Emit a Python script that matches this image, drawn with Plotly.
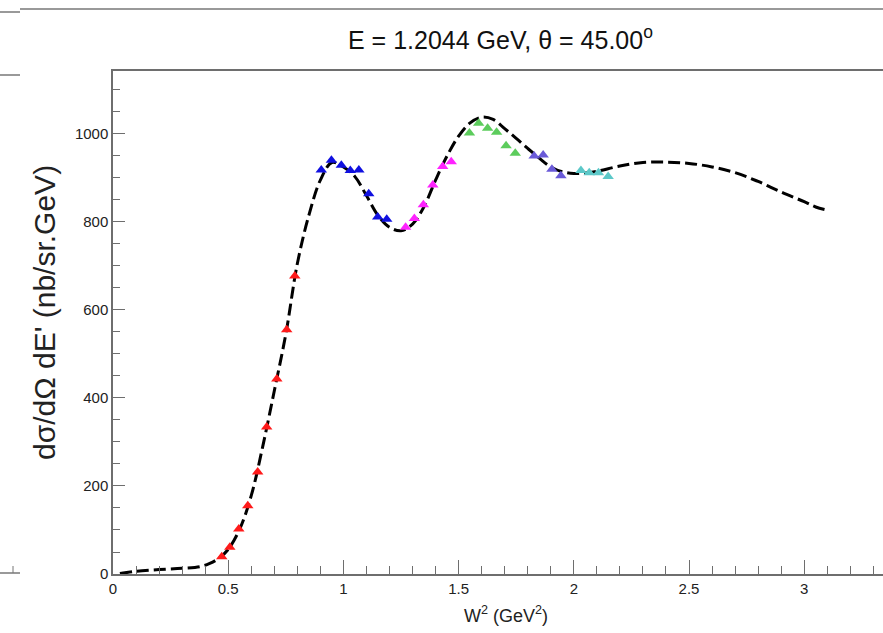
import plotly.graph_objects as go

# Model curve
curve_x = [0.03, 0.10, 0.20, 0.30, 0.38, 0.42, 0.46, 0.50, 0.55, 0.60, 0.65, 0.70, 0.75,
           0.80, 0.85, 0.90, 0.95, 1.00, 1.05, 1.10, 1.15, 1.20, 1.25, 1.30, 1.35, 1.40,
           1.45, 1.50, 1.55, 1.60, 1.65, 1.70, 1.75, 1.80, 1.85, 1.90, 1.95, 2.00, 2.05,
           2.10, 2.20, 2.30, 2.40, 2.50, 2.60, 2.70, 2.80, 2.90, 3.00, 3.05, 3.10]
curve_y = [1, 6, 10, 13, 17, 24, 36, 56, 102, 178, 290, 416, 545,
           705, 815, 895, 935, 925, 903, 860, 815, 788, 780, 795, 835, 895,
           950, 995, 1025, 1038, 1033, 1012, 990, 967, 945, 925, 914, 910, 911,
           915, 927, 935, 936, 933, 925, 912, 892, 868, 846, 834, 827]

# Data sets
red_x = [0.472, 0.507, 0.546, 0.585, 0.628, 0.667, 0.711, 0.754, 0.789]
red_y = [39, 61, 102, 155, 232, 334, 443, 555, 677]

blue_x = [0.904, 0.948, 0.991, 1.030, 1.067, 1.110, 1.149, 1.188]
blue_y = [918, 940, 929, 917, 918, 864, 811, 806]

magenta_x = [1.270, 1.308, 1.347, 1.388, 1.431, 1.468]
magenta_y = [788, 808, 839, 884, 926, 937]

green_x = [1.547, 1.587, 1.626, 1.665, 1.706, 1.746]
green_y = [1002, 1024, 1013, 1004, 973, 956]

slate_x = [1.828, 1.867, 1.905, 1.944]
slate_y = [950, 952, 920, 905]

cyan_x = [2.031, 2.067, 2.107, 2.149]
cyan_y = [917, 912, 912, 903]

series = [
    (red_x, red_y, "#ff1a1a"),
    (blue_x, blue_y, "#1010e0"),
    (magenta_x, magenta_y, "#ff22ff"),
    (green_x, green_y, "#5ccc5c"),
    (slate_x, slate_y, "#6a5ad8"),
    (cyan_x, cyan_y, "#5cc8c8"),
]

FONT = "Liberation Sans Narrow, Arial Narrow, Liberation Sans, Arial, sans-serif"
REG = "Liberation Sans, Arial, sans-serif"

fig = go.Figure()
fig.add_trace(go.Scatter(x=curve_x, y=curve_y, mode="lines",
                         line=dict(color="black", width=3, dash="12px,5px", shape="spline"),
                         showlegend=False, hoverinfo="skip"))
for xs, ys, col in series:
    fig.add_trace(go.Scatter(x=xs, y=ys, mode="markers",
                             marker=dict(symbol="triangle-up", size=10, color=col),
                             error_x=dict(type="constant", value=0.012, color=col, thickness=1, width=0),
                             showlegend=False))

W, H = 883, 633
L, R, T, B = 113, 0, 71, 59
pw, ph = W - L - R, H - T - B

def px(xp):
    return (xp - L) / pw

def py(yp):
    return (H - B - yp) / ph

axis_col = "#6e6e6e"
fig.update_layout(
    width=W, height=H, autosize=False,
    margin=dict(l=L, r=R, t=T, b=B, pad=0),
    paper_bgcolor="white", plot_bgcolor="white",
    showlegend=False,
    xaxis=dict(range=[0, 3.342], showgrid=False, zeroline=False,
               showline=True, linecolor=axis_col, linewidth=1.5, mirror=True,
               ticks="inside", ticklen=14, tickcolor=axis_col, tickwidth=1,
               dtick=0.5, tick0=0,
               minor=dict(ticks="inside", ticklen=8, dtick=0.1, tickcolor=axis_col, showgrid=False),
               tickfont=dict(family=FONT, size=15, color="#222")),
    yaxis=dict(range=[0, 1143], showgrid=False, zeroline=False,
               showline=True, linecolor=axis_col, linewidth=1.5,
               ticks="inside", ticklen=12, tickcolor=axis_col, tickwidth=1,
               dtick=200, tick0=0,
               minor=dict(ticks="inside", ticklen=7, dtick=50, tickcolor=axis_col, showgrid=False),
               tickfont=dict(family=FONT, size=15, color="#222")),
    annotations=[
        dict(text="E = 1.2044 GeV, θ = 45.00<sup>o</sup>", xref="paper", yref="paper",
             x=px(501), y=py(38), showarrow=False, xanchor="center", yanchor="middle",
             font=dict(family=FONT, size=25, color="#111")),
        dict(text="W<sup>2</sup> (GeV<sup>2</sup>)", xref="paper", yref="paper",
             x=px(506), y=py(614), showarrow=False, xanchor="center", yanchor="middle",
             font=dict(family=FONT, size=18, color="#222")),
        dict(text="dσ/dΩ dE' (nb/sr.GeV)", xref="paper", yref="paper",
             x=px(44), y=py(313), showarrow=False, xanchor="center", yanchor="middle",
             textangle=-90, font=dict(family=REG, size=30, color="#222")),
    ],
    shapes=[
        dict(type="line", xref="paper", yref="paper", x0=px(20), x1=px(883), y0=py(9), y1=py(9),
             line=dict(color="#777", width=1.5)),
        dict(type="line", xref="paper", yref="paper", x0=px(0), x1=px(20), y0=py(12), y1=py(12),
             line=dict(color="#777", width=1.5)),
        dict(type="line", xref="paper", yref="paper", x0=px(0), x1=px(20), y0=py(75), y1=py(75),
             line=dict(color="#777", width=1.5)),
        dict(type="line", xref="paper", yref="paper", x0=px(0), x1=px(20), y0=py(573), y1=py(573),
             line=dict(color="#777", width=1.5)),
        dict(type="line", xref="paper", yref="paper", x0=px(13), x1=px(13), y0=py(573), y1=py(566),
             line=dict(color="#777", width=1)),
    ],
)

fig.write_html("out.html", config={"displayModeBar": False},
               post_script="document.body.style.margin='0';document.body.style.overflow='hidden';")
